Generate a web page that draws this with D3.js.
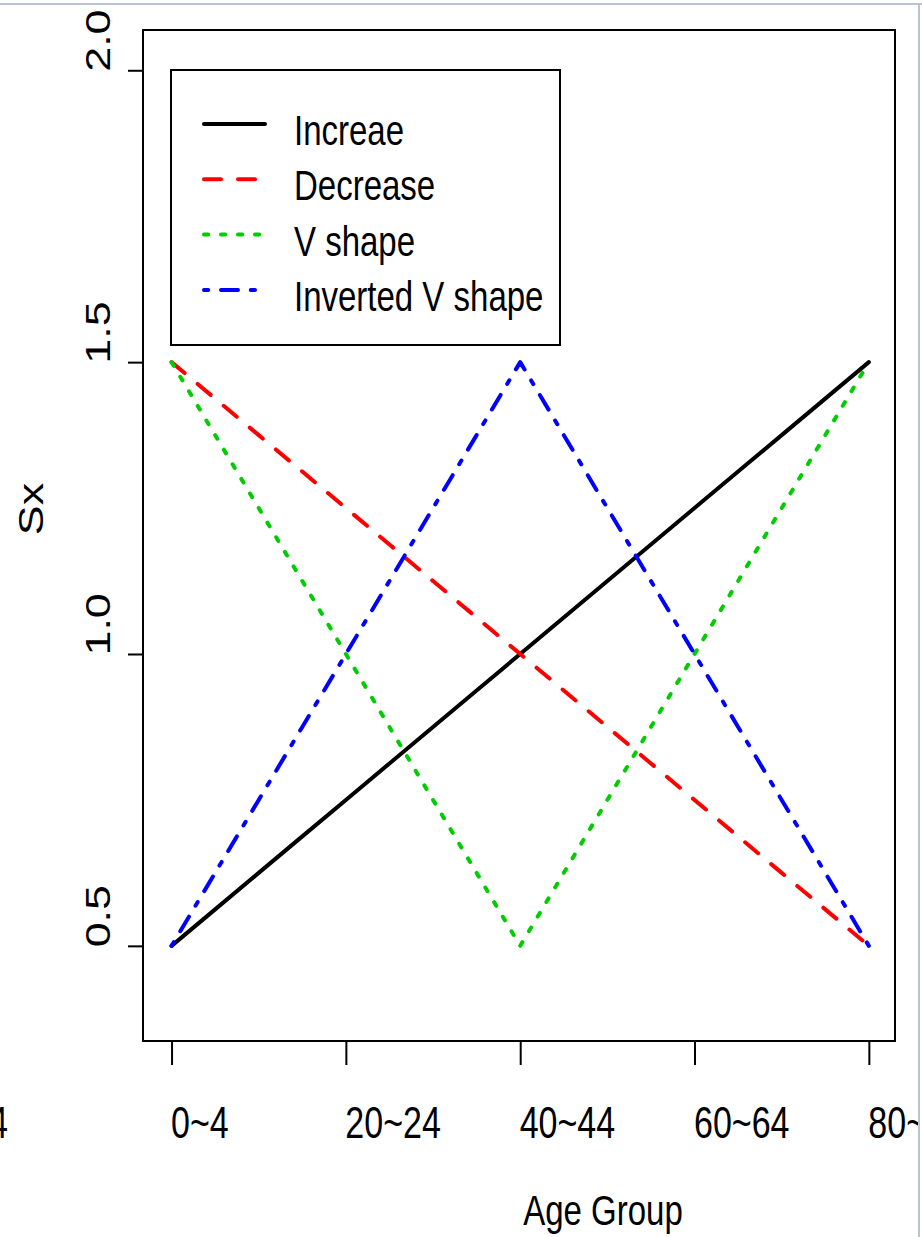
<!DOCTYPE html>
<html>
<meta charset="UTF-8">
<style>
/*	page and text styles */
body { margin: 0; background: white; }
svg { display: block; }
text { font-family: "Liberation Sans", Arial, sans-serif; fill: black; }
.box { fill: none; stroke: black; stroke-width: 2px; }
.tick line { stroke: black; stroke-width: 2px; }
.series { fill: none; stroke-width: 4px; stroke-linecap: round; stroke-linejoin: round; }
.frame { stroke: #b9c3d1; stroke-width: 2px; }
</style>
<svg width="922" height="1237"></svg>
<script src="https://d3js.org/d3.v7.min.js"></script>
<script>
//	age groups (x categories)
var ageGroups = ["0~4", "5~9", "10~14", "15~19", "20~24", "25~29", "30~34", "35~39",
	"40~44", "45~49", "50~54", "55~59", "60~64", "65~69", "70~74", "75~79", "80~"];

//	shown ticks and labels
var xTickIdx = [0, 4, 8, 12, 16];
var yTicks = [0.5, 1.0, 1.5, 2.0];
var edgeLabel = "80~84";	// label of the neighbour panel, cut by the window

//	series values
var increase = [0.5, 0.5625, 0.625, 0.6875, 0.75, 0.8125, 0.875, 0.9375, 1.0,
	1.0625, 1.125, 1.1875, 1.25, 1.3125, 1.375, 1.4375, 1.5];
var decrease = [1.5, 1.4375, 1.375, 1.3125, 1.25, 1.1875, 1.125, 1.0625, 1.0,
	0.9375, 0.875, 0.8125, 0.75, 0.6875, 0.625, 0.5625, 0.5];
var vShape = [1.5, 1.375, 1.25, 1.125, 1.0, 0.875, 0.75, 0.625, 0.5,
	0.625, 0.75, 0.875, 1.0, 1.125, 1.25, 1.375, 1.5];
var invVShape = [0.5, 0.625, 0.75, 0.875, 1.0, 1.125, 1.25, 1.375, 1.5,
	1.375, 1.25, 1.125, 1.0, 0.875, 0.75, 0.625, 0.5];

var seriesNames = ["Increae", "Decrease", "V shape", "Inverted V shape"];
var seriesColors = ["#000000", "#ff0000", "#00cd00", "#0000ff"];
var seriesDash = ["none", "17,17", "4.25,12.75", "4.25,12.75,17,12.75"];

//	svg and sizing
var svg = d3.select("svg"),
	width = +svg.attr("width"),
	height = +svg.attr("height");

var plot = { left: 143, right: 895, top: 30, bottom: 1041 };
var stretch = 1.28;	// the picture is stretched vertically

var x = d3.scaleLinear().domain([-0.655, 16.6]).range([plot.left, plot.right]);
var y = d3.scaleLinear().domain([0.337, 2.069]).range([plot.bottom, plot.top]);

//	clip to window frame
svg.append("clipPath").attr("id", "win")
	.append("rect").attr("x", 0).attr("y", 0).attr("width", 918).attr("height", height);
var g = svg.append("g").attr("clip-path", "url(#win)");

//	series lines
var line = d3.line()
	.x(function(d, i) { return x(i); })
	.y(function(d) { return y(d); });

var allSeries = [increase, decrease, vShape, invVShape];
g.selectAll(".series").data(allSeries).enter().append("path")
	.attr("class", "series")
	.attr("d", line)
	.attr("stroke", function(d, i) { return seriesColors[i]; })
	.attr("stroke-dasharray", function(d, i) { return seriesDash[i]; });

//	plot box
g.append("rect").attr("class", "box")
	.attr("x", plot.left).attr("y", plot.top)
	.attr("width", plot.right - plot.left).attr("height", plot.bottom - plot.top);

//	x axis
var xAxis = g.append("g")
	.attr("transform", "translate(0," + plot.bottom + ")")
	.call(d3.axisBottom(x).tickValues(xTickIdx)
		.tickFormat(function(i) { return ageGroups[i]; })
		.tickSize(24).tickSizeOuter(0));
xAxis.select(".domain").remove();
xAxis.selectAll("text")
	.attr("x", null).attr("y", null).attr("dy", null)
	.attr("text-anchor", "start")
	.attr("transform", "translate(-1,97) scale(1," + stretch + ")")
	.style("font-family", "'Liberation Sans', Arial, sans-serif")
	.style("font-size", "34px");

g.append("text")
	.attr("text-anchor", "end")
	.attr("transform", "translate(8,1138) scale(1," + stretch + ")")
	.style("font-size", "34px")
	.text(edgeLabel);

//	y axis
var yAxis = g.append("g")
	.attr("transform", "translate(" + plot.left + ",0)")
	.call(d3.axisLeft(y).tickValues(yTicks)
		.tickFormat(d3.format(".1f"))
		.tickSize(15).tickSizeOuter(0));
yAxis.select(".domain").remove();
yAxis.selectAll("text")
	.attr("x", null).attr("y", null).attr("dy", null)
	.attr("text-anchor", "start")
	.attr("transform", "translate(-33,1) scale(1," + stretch + ") rotate(-90)")
	.style("font-size", "35px");

//	axis titles
g.append("text")
	.attr("text-anchor", "middle")
	.attr("transform", "translate(603,1225) scale(1," + stretch + ")")
	.style("font-size", "33px")
	.text("Age Group");

g.append("text")
	.attr("text-anchor", "middle")
	.attr("transform", "translate(43,509) scale(1," + stretch + ") rotate(-90)")
	.style("font-size", "35px")
	.text("Sx");

//	legend
var legend = g.append("g");
legend.append("rect").attr("class", "box")
	.attr("x", 171).attr("y", 70).attr("width", 389).attr("height", 275);

var item = legend.selectAll(".item").data(seriesNames).enter().append("g")
	.attr("class", "item")
	.attr("transform", function(d, i) { return "translate(0," + (145 + i * 55.3) + ")"; });

item.append("line")
	.attr("class", "series")
	.attr("x1", 204).attr("x2", 265)
	.attr("y1", -21).attr("y2", -21)
	.attr("stroke", function(d, i) { return seriesColors[i]; })
	.attr("stroke-dasharray", function(d, i) { return seriesDash[i]; });

item.append("text")
	.attr("transform", "translate(294,0) scale(1," + stretch + ")")
	.style("font-size", "33px")
	.text(function(d) { return d; });

//	window frame
svg.append("line").attr("class", "frame")
	.attr("x1", 0).attr("x2", width).attr("y1", 4).attr("y2", 4);
svg.append("line").attr("class", "frame")
	.attr("x1", 919).attr("x2", 919).attr("y1", 4).attr("y2", height);
</script>
</html>
